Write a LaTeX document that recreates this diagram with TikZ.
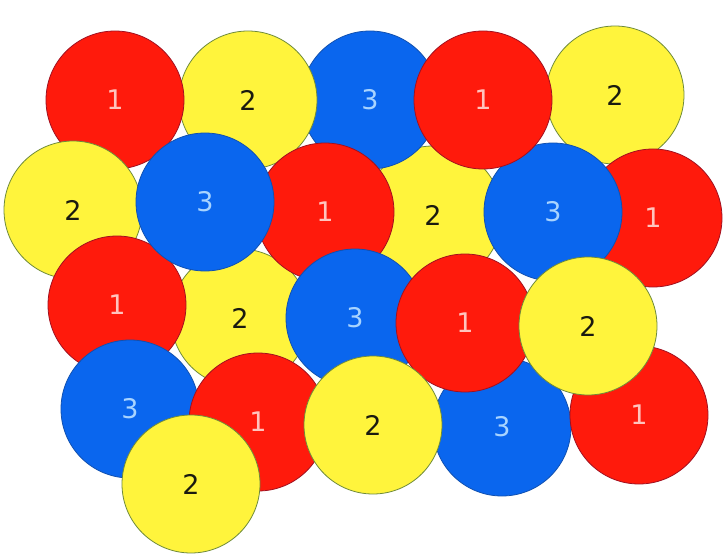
\documentclass[tikz,border=0pt]{standalone}
\usepackage{fontspec}
\setmainfont{DejaVu Sans}
\definecolor{cred}{HTML}{FF1A0C}
\definecolor{credline}{HTML}{A01020}
\definecolor{cyel}{HTML}{FFF43C}
\definecolor{cyelline}{HTML}{6E8A3A}
\definecolor{cblue}{HTML}{0A66EE}
\definecolor{cblueline}{HTML}{1050B0}
\definecolor{credtxt}{HTML}{FFC4BE}
\definecolor{cbluetxt}{HTML}{A8D4FF}
\definecolor{cyeltxt}{HTML}{1A1A10}
\begin{document}
\begin{tikzpicture}[x=1pt,y=-1pt,
  ball/.style={circle,inner sep=0pt,minimum size=138pt,line width=0.8pt,font=\fontsize{27}{27}\selectfont},
  rb/.style={ball,fill=cred,draw=credline,text=credtxt},
  yb/.style={ball,fill=cyel,draw=cyelline,text=cyeltxt},
  bb/.style={ball,fill=cblue,draw=cblueline,text=cbluetxt}]
\useasboundingbox[fill=white] (0,0) rectangle (723,559);
% bottom layer
\node[yb] (y31) at (240,318) {2};
\node[yb] (y22) at (433,215) {2};
% top row
\node[bb] (b11) at (370,100) {3};
\node[yb] (y11) at (248,100) {2};
\node[rb] (r11) at (115,100) {1};
\node[yb] (y12) at (615,95) {2};
\node[yb] (y21) at (73,210) {2};
\node[rb] (r31) at (117,305) {1};
\node[rb] (r21) at (325,212) {1};
\node[bb] (b21) at (205,202) {3};
\node[rb] (r22) at (653,218) {1};
\node[bb] (b22) at (553,212) {3};
\node[rb] (r12) at (483,100) {1};
\node[bb] (b31) at (355,318) {3};
\node[bb] (b42) at (502,427) {3};
\node[rb] (r32) at (465,323) {1};
\node[rb] (r43) at (639,415) {1};
\node[yb] (y32) at (588,326) {2};
\node[bb] (b41) at (130,409) {3};
\node[rb] (r41) at (258,422) {1};
\node[yb] (y41) at (373,425) {2};
\node[yb] (y51) at (191,484) {2};
\end{tikzpicture}
\end{document}
